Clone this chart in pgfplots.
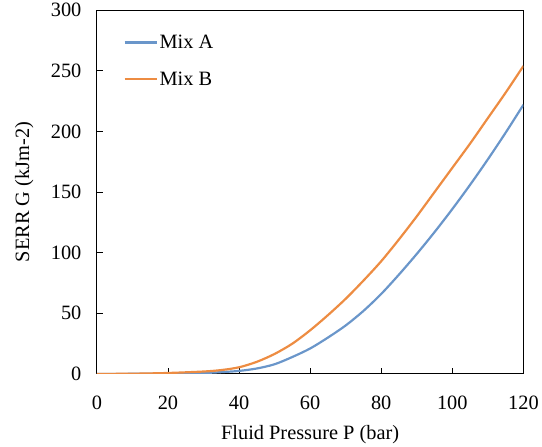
\documentclass[border=0pt]{standalone}
\usepackage{fontspec}
\setmainfont{Liberation Serif}
\usepackage{pgfplots}
\pgfplotsset{compat=1.18}
\definecolor{mixA}{RGB}{106,150,202}
\definecolor{mixB}{RGB}{237,140,66}
\begin{document}
\begin{tikzpicture}[font=\fontsize{20.5}{24}\selectfont]
\begin{axis}[
  scale only axis,
  width=428bp, height=365bp,
  xmin=0, xmax=120, ymin=0, ymax=300,
  xtick={0,20,...,120}, ytick={0,50,...,300},
  tick align=inside, xtick pos=left, ytick pos=left,
  major tick length=6bp,
  axis line style={line width=1.1bp, black},
  tick style={line width=0.9bp, black},
  /pgf/number format/assume math mode=true,
  xticklabel style={yshift=-19bp},
  yticklabel style={xshift=-12bp},
  xlabel={Fluid Pressure P (bar)},
  ylabel={SERR G (kJm-2)},
  xlabel style={yshift=-8bp},
  ylabel style={yshift=-1bp, inner ysep=15bp},
  legend style={draw=none, fill=none, at={(0.062,0.935)}, anchor=north west,
    row sep=20bp, font=\fontsize{20.5}{24}\selectfont, inner sep=0pt,
    nodes={inner sep=1bp}},
  legend cell align=left,
  legend image code/.code={\draw[#1] (0bp,0bp) -- (33bp,0bp);},
]
\addplot[mixA, line width=2.2bp, smooth] coordinates {
(0,0) (10,0.1) (20,0.3) (30,0.8) (35,1.5) (40,2.5) (45,4.5) (50,8) (55,14) (60,21) (65,30) (70,40) (75,52) (80,66) (85,82) (90,99) (95,117) (100,136) (105,156) (110,177) (115,199) (120,222)
};
\addlegendentry{Mix A}
\addplot[mixB, line width=2.2bp, smooth] coordinates {
(0,0) (10,0.2) (20,0.8) (30,2) (35,3.2) (40,5.5) (45,10) (50,16.5) (55,25) (60,36) (65,48.5) (70,62) (75,77) (80,93) (85,111) (90,130) (95,150) (100,170) (105,190) (110,211) (115,232) (120,254)
};
\addlegendentry{Mix B}
\end{axis}
\end{tikzpicture}
\end{document}
